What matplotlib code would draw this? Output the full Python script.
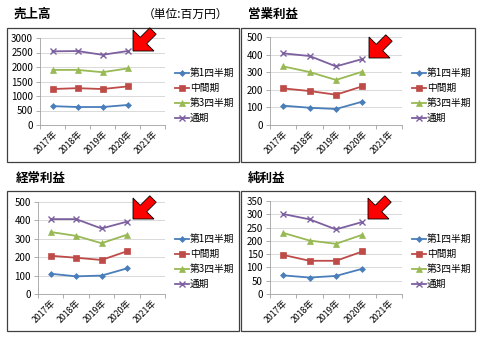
import matplotlib
matplotlib.use("Agg")
import matplotlib.pyplot as plt
from matplotlib.patches import Rectangle, Polygon
from matplotlib.lines import Line2D

plt.rcParams['font.family'] = ['Noto Sans CJK JP', 'DejaVu Sans']

years = ["2017年", "2018年", "2019年", "2020年", "2021年"]
series_names = ["第1四半期", "中間期", "第3四半期", "通期"]

sales = [[650, 620, 620, 690],
         [1240, 1270, 1240, 1330],
         [1900, 1900, 1820, 1950],
         [2540, 2550, 2420, 2550]]
operating = [[110, 98, 91, 133],
             [208, 193, 172, 220],
             [333, 301, 256, 303],
             [407, 392, 333, 375]]
ordinary = [[110, 96, 100, 139],
            [208, 197, 185, 232],
            [337, 316, 276, 322],
            [407, 407, 356, 393]]
net = [[70, 62, 68, 95],
       [147, 125, 125, 160],
       [230, 201, 189, 223],
       [301, 281, 243, 271]]

titles = ["売上高", "営業利益", "経常利益", "純利益"]
unit_label = "（単位:百万円）"

colors = ["#4A7EBB", "#BE4B48", "#98B954", "#7D60A0"]
markers = ["D", "s", "^", "x"]
msizes = [3, 4, 4, 4.5]

W, H = 480, 338
fig = plt.figure(figsize=(4.8, 3.38), dpi=100)


def px(x0, y0, x1, y1):
    return [x0 / W, 1 - y1 / H, (x1 - x0) / W, (y1 - y0) / H]


panels = [
    dict(data=sales, ymax=3000, step=500, frame=(7, 28, 239, 162), ax=(40, 38, 165, 125),
         title=(14, 14), leg=(175, 73), arrow=(133, 51)),
    dict(data=operating, ymax=500, step=100, frame=(241, 28, 475, 162), ax=(270, 37, 402, 125),
         title=(248, 14), leg=(412, 73), arrow=(369, 58)),
    dict(data=ordinary, ymax=500, step=100, frame=(7, 191, 239, 331), ax=(38, 202, 165, 294),
         title=(16, 178), leg=(175, 239), arrow=(133, 219)),
    dict(data=net, ymax=350, step=50, frame=(241, 191, 475, 331), ax=(270, 201, 402, 294),
         title=(248, 178), leg=(412, 239), arrow=(368, 219)),
]

# background layer for frames, titles and legends (figure pixel coordinates)
bg = fig.add_axes([0, 0, 1, 1], zorder=0)
bg.set_xlim(0, W)
bg.set_ylim(H, 0)
bg.axis("off")

# overlay layer for the callout arrows
top = fig.add_axes([0, 0, 1, 1], zorder=5)
top.set_xlim(0, W)
top.set_ylim(H, 0)
top.axis("off")
top.patch.set_alpha(0)

# block arrow outline, tip at origin, pointing down-left
arrow_shape = [(0, 0), (0, -21), (7.3, -13.7), (16.8, -23.2), (23.2, -16.8),
               (13.7, -7.3), (21, 0)]

for p, title in zip(panels, titles):
    fx0, fy0, fx1, fy1 = p["frame"]
    bg.add_patch(Rectangle((fx0, fy0), fx1 - fx0, fy1 - fy0, fill=False,
                           edgecolor="#404040", lw=0.9))
    bg.text(p["title"][0], p["title"][1], title, fontsize=9, fontweight="bold",
            va="center", ha="left", color="black")

    ax = fig.add_axes(px(*p["ax"]), zorder=2)
    ax.patch.set_alpha(0)
    xs = list(range(len(years)))
    for vals, name, c, m, ms in zip(p["data"], series_names, colors, markers, msizes):
        ax.plot(xs[:len(vals)], vals, color=c, marker=m, markersize=ms, lw=1.3,
                markeredgewidth=1.0 if m == "x" else 0.5, label=name)
    ax.set_xlim(-0.5, len(years) - 0.5)
    ax.set_ylim(0, p["ymax"])
    ax.set_yticks(range(0, p["ymax"] + 1, p["step"]))
    ax.set_xticks(xs)
    ax.set_xticklabels(years, rotation=45, ha="right", va="top", rotation_mode="anchor",
                       fontsize=6.3)
    ax.set_xticks([i - 0.5 for i in range(len(years) + 1)], minor=True)
    ax.tick_params(axis="x", which="major", length=0, pad=3)
    ax.tick_params(axis="x", which="minor", length=3, color="#A0A0A0", width=0.6)
    ax.tick_params(axis="y", labelsize=7, length=3, color="#A0A0A0", width=0.6, pad=2)
    ax.grid(axis="y", color="#D9D9D9", lw=0.7)
    ax.set_axisbelow(True)
    for s in ["top", "right"]:
        ax.spines[s].set_visible(False)
    for s in ["left", "bottom"]:
        ax.spines[s].set_color("#A0A0A0")
        ax.spines[s].set_linewidth(0.6)

    lx, ly = p["leg"]
    for i, (name, c, m, ms) in enumerate(zip(series_names, colors, markers, msizes)):
        yy = ly + i * 15
        bg.add_line(Line2D([lx, lx + 14], [yy, yy], color=c, lw=1.3))
        bg.plot([lx + 7], [yy], marker=m, color=c, markersize=ms,
                markeredgewidth=1.0 if m == "x" else 0.5)
        bg.text(lx + 15, yy, name, fontsize=7, va="center", ha="left")

    tx, ty = p["arrow"]
    pts = [(tx + dx, ty + dy) for dx, dy in arrow_shape]
    top.add_patch(Polygon(pts, closed=True, facecolor="#FF0000", edgecolor="black", lw=0.6))

bg.text(143, 14, unit_label, fontsize=8.5, va="center", ha="left")

fig.savefig("out.png", dpi=100)
